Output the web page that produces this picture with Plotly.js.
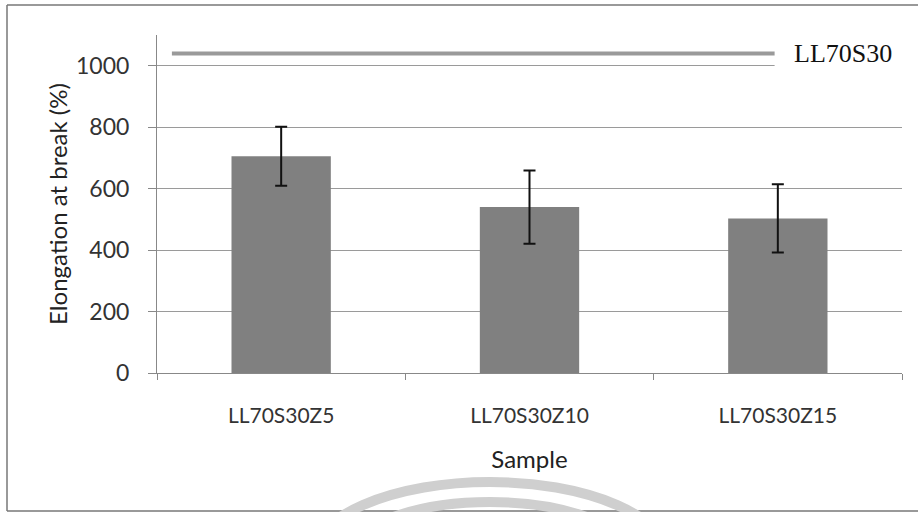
<!DOCTYPE html>
<html>
<head>
<meta charset="utf-8">
<script src="https://cdn.plot.ly/plotly-3.0.1.min.js"></script>
<style>html,body{margin:0;padding:0;background:#fff;overflow:hidden;}#chart{width:918px;height:512px;}</style>
</head>
<body>
<div id="chart"></div>
<script>
// Data
const samples = ["LL70S30Z5", "LL70S30Z10", "LL70S30Z15"];
const elongation = [705, 540, 503];
const elongationErr = [96, 119, 111];
const referenceName = "LL70S30";
const referenceValue = [1040];
const yTicks = [0, 200, 400, 600, 800, 1000];

const FONT = "Lato, 'Open Sans', sans-serif";

const traces = [{
  type: "bar",
  x: samples,
  y: elongation,
  marker: {color: "#808080", line: {width: 0}},
  error_y: {type: "data", array: elongationErr, visible: true, color: "#111", thickness: 2, width: 6},
  hoverinfo: "x+y",
  showlegend: false
}];

const layout = {
  width: 918, height: 512,
  margin: {l: 157, r: 16, t: 35, b: 139},
  paper_bgcolor: "#fff", plot_bgcolor: "#fff",
  bargap: 0.6,
  showlegend: false,
  font: {family: FONT, color: "#333"},
  xaxis: {
    type: "category",
    range: [-0.5, 2.5],
    tickson: "boundaries",
    ticks: "outside", ticklen: 6, tickcolor: "#888", tickwidth: 1,
    showline: true, linecolor: "#888", linewidth: 1,
    showgrid: false, zeroline: false,
    tickfont: {family: FONT, size: 21, color: "#333"},
    ticklabelstandoff: 24,
    title: {text: "Sample", font: {family: FONT, size: 24, color: "#222"}, standoff: 24}
  },
  yaxis: {
    range: [0, 1100],
    tickvals: yTicks,
    ticktext: yTicks.map(String),
    ticks: "outside", ticklen: 8, tickcolor: "#888", tickwidth: 1,
    showline: true, linecolor: "#888", linewidth: 1,
    showgrid: true, gridcolor: "#9a9a9a", gridwidth: 1,
    zeroline: false,
    tickfont: {family: FONT, size: 23, color: "#333"},
    ticklabelstandoff: 14,
    title: {text: "Elongation at break (%)", font: {family: FONT, size: 24, color: "#222"}, standoff: 1}
  },
  shapes: [
    // white textbox area hiding the gridline end behind label
    {type: "rect", xref: "paper", yref: "y", x0: 0.829, x1: 1.02, y0: 975, y1: 1100,
     fillcolor: "#fff", line: {width: 0}, layer: "above"},
    // reference line LL70S30
    {type: "line", xref: "paper", yref: "y", x0: 0.02, x1: 0.829, y0: referenceValue[0], y1: referenceValue[0],
     line: {color: "#9a9a9a", width: 4}, layer: "above"},
    // outer frame: top, left, bottom edges
    {type: "line", xref: "paper", yref: "paper", x0: -150/745, x1: 1.0215, y0: (373-5)/338, y1: (373-5)/338,
     line: {color: "#777", width: 1.5}, layer: "above"},
    {type: "line", xref: "paper", yref: "paper", x0: -150/745, x1: -150/745, y0: (373-5)/338, y1: (373-511)/338,
     line: {color: "#777", width: 1.5}, layer: "above"},
    {type: "line", xref: "paper", yref: "paper", x0: -150/745, x1: 1.0215, y0: (373-511)/338, y1: (373-511)/338,
     line: {color: "#777", width: 1.5}, layer: "above"},
    // watermark arcs
    {type: "circle", xref: "paper", yref: "paper",
     x0: (310-157)/745, x1: (670-157)/745, y0: (373-640)/338, y1: (373-482)/338,
     line: {color: "#cfcfcf", width: 10}, fillcolor: "rgba(0,0,0,0)", layer: "above"},
    {type: "circle", xref: "paper", yref: "paper",
     x0: (340-157)/745, x1: (640-157)/745, y0: (373-630)/338, y1: (373-502)/338,
     line: {color: "#cfcfcf", width: 10}, fillcolor: "rgba(0,0,0,0)", layer: "above"}
  ],
  annotations: [{
    xref: "paper", yref: "y", x: (792-157)/745, y: referenceValue[0],
    xanchor: "left", yanchor: "middle", showarrow: false,
    text: referenceName,
    font: {family: "'Liberation Serif', 'Times New Roman', serif", size: 26, color: "#111"}
  }]
};

Plotly.newPlot("chart", traces, layout, {staticPlot: true, displayModeBar: false});
</script>
</body>
</html>
